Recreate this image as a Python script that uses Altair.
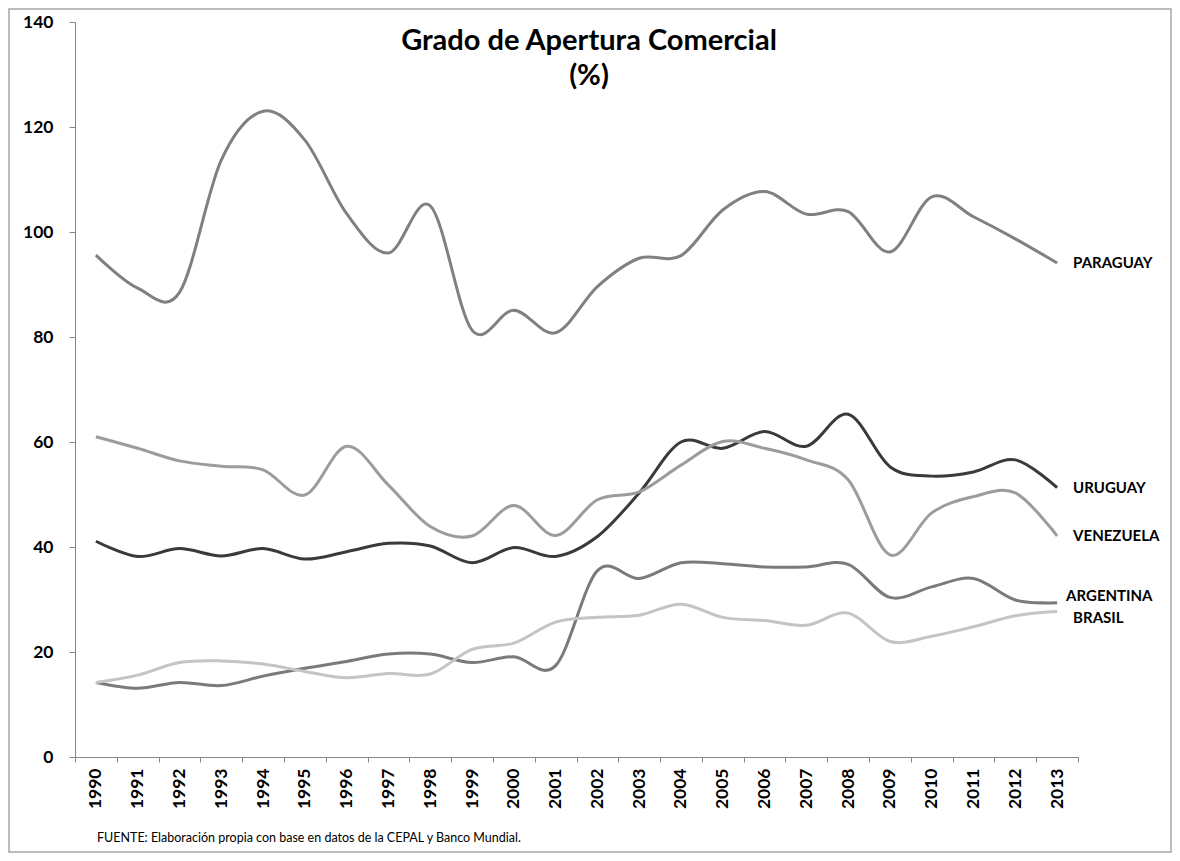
import altair as alt
import pandas as pd

years = [str(y) for y in range(1990, 2014)]

paraguay = [95.6, 89.3, 88.5, 113.7, 123.0, 117.5, 103.5, 96.0, 105.0, 81.3, 85.1, 80.8,
            89.6, 95.0, 95.5, 104.2, 107.7, 103.4, 103.9, 96.2, 106.7, 102.9, 98.7, 94.1]
uruguay = [41.1, 38.2, 39.7, 38.3, 39.7, 37.7, 39.1, 40.7, 40.2, 37.0, 39.9, 38.2,
           42.0, 50.3, 60.0, 58.8, 62.0, 59.2, 65.3, 55.3, 53.5, 54.3, 56.6, 51.3]
venezuela = [61.0, 58.8, 56.4, 55.4, 54.7, 49.9, 59.2, 51.8, 43.9, 42.1, 47.9, 42.2,
             49.0, 50.5, 55.6, 60.1, 58.8, 56.6, 52.8, 38.5, 46.5, 49.6, 50.3, 42.1]
argentina = [14.2, 13.1, 14.2, 13.6, 15.4, 16.9, 18.2, 19.6, 19.6, 18.0, 19.1, 17.4,
             35.5, 34.0, 37.0, 36.8, 36.2, 36.2, 36.7, 30.4, 32.4, 34.0, 29.9, 29.4]
brasil = [14.2, 15.6, 18.0, 18.3, 17.7, 16.3, 15.1, 15.9, 15.8, 20.5, 21.7, 25.7,
          26.6, 27.0, 29.1, 26.6, 26.0, 25.1, 27.4, 22.0, 23.0, 24.8, 26.9, 27.7]

countries = ["PARAGUAY", "URUGUAY", "VENEZUELA", "ARGENTINA", "BRASIL"]
colors = ["#808080", "#3a3a3a", "#9c9c9c", "#7a7a7a", "#c4c4c4"]
series = [paraguay, uruguay, venezuela, argentina, brasil]

title_lines = ["Grado de Apertura Comercial", "(%)"]
source_note = "FUENTE: Elaboración propia con base en datos de la CEPAL y Banco Mundial."

rows = []
for name, vals in zip(countries, series):
    for y, v in zip(years, vals):
        rows.append({"year": y, "country": name, "value": v})
df = pd.DataFrame(rows)

FONT = "Lato"
W, H = 1003, 735

x_enc = alt.X(
    "year:O",
    bandPosition=0.5,
    sort=years,
    scale=alt.Scale(type="band", paddingInner=0, paddingOuter=0),
    axis=alt.Axis(
        title=None, labelAngle=-90, labelFont=FONT, labelFontWeight="bold",
        labelFontSize=17.5, labelColor="#000000", tickBand="extent",
        domainColor="#868686", tickColor="#868686", tickSize=5, labelPadding=6,
        grid=False,
    ),
)
y_enc = alt.Y(
    "value:Q",
    scale=alt.Scale(domain=[0, 140], nice=False, zero=True),
    axis=alt.Axis(
        title=None, values=[0, 20, 40, 60, 80, 100, 120, 140], labelFont=FONT,
        labelFontWeight="bold", labelFontSize=17.5, labelColor="#000000",
        domainColor="#868686", tickColor="#868686", tickSize=6, labelPadding=16,
        grid=False,
    ),
)
color_enc = alt.Color(
    "country:N", scale=alt.Scale(domain=countries, range=colors), legend=None
)

base = alt.Chart(df)

lines = base.mark_line(interpolate="cardinal", strokeWidth=3).encode(
    x=x_enc, y=y_enc, color=color_enc, detail="country:N"
)

last = base.transform_filter(alt.datum.year == "2013")
label_style = dict(align="left", baseline="middle", dx=16, font=FONT,
                   fontWeight="bold", fontSize=15, color="#000000")
labels_main = last.transform_filter(
    alt.FieldOneOfPredicate(field="country", oneOf=["PARAGUAY", "URUGUAY", "VENEZUELA"])
).mark_text(**label_style).encode(x=x_enc, y=y_enc, text="country:N")
labels_arg = last.transform_filter(alt.datum.country == "ARGENTINA").mark_text(
    **{**label_style, "dx": 9, "dy": -7}
).encode(x=x_enc, y=y_enc, text="country:N")
labels_bra = last.transform_filter(alt.datum.country == "BRASIL").mark_text(
    **{**label_style, "dy": 6}
).encode(x=x_enc, y=y_enc, text="country:N")

one = pd.DataFrame({"k": [0]})
title1 = alt.Chart(one).mark_text(
    font=FONT, fontWeight="bold", fontSize=29, align="center", baseline="alphabetic",
    color="#000000"
).encode(x=alt.value(514), y=alt.value(28), text=alt.value(title_lines[0]))
title2 = alt.Chart(one).mark_text(
    font=FONT, fontWeight="bold", fontSize=29, align="center", baseline="alphabetic",
    color="#000000"
).encode(x=alt.value(514), y=alt.value(63), text=alt.value(title_lines[1]))
footer = alt.Chart(one).mark_text(
    font=FONT, fontSize=12.5, align="left", baseline="middle", color="#000000"
).encode(x=alt.value(22), y=alt.value(816), text=alt.value(source_note))
border = alt.Chart(one).mark_rect(
    fill=None, stroke="#a6a6a6", strokeWidth=1.5
).encode(x=alt.value(-66), x2=alt.value(1096), y=alt.value(-13), y2=alt.value(830))

chart = alt.layer(
    border, lines, labels_main, labels_arg, labels_bra, title1, title2, footer
).properties(
    width=W, height=H,
    autosize=alt.AutoSizeParams(type="none"),
    padding={"left": 67, "top": 14, "right": 94, "bottom": 96},
    background="#ffffff",
).configure_view(stroke=None)

chart.save("out.html", embed_options={"renderer": "svg", "actions": False})
